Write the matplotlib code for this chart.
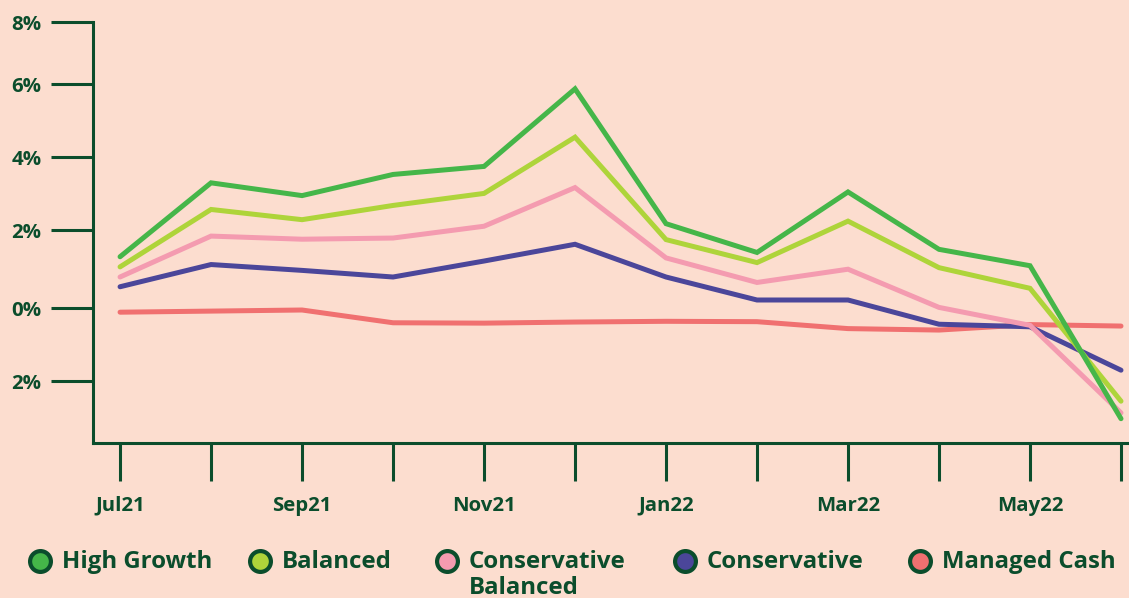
import numpy as np
import matplotlib.pyplot as plt
from matplotlib.lines import Line2D

months = ["Jul21", "Aug21", "Sep21", "Oct21", "Nov21", "Dec21",
          "Jan22", "Feb22", "Mar22", "Apr22", "May22", "Jun22"]
tick_labels = ["Jul21", "", "Sep21", "", "Nov21", "", "Jan22", "", "Mar22", "", "May22", ""]

high_growth = [1.32, 3.30, 2.95, 3.53, 3.75, 5.87, 2.18, 1.43, 3.05, 1.51, 1.09, -3.03]
balanced = [1.06, 2.57, 2.29, 2.68, 3.01, 4.55, 1.76, 1.17, 2.25, 1.04, 0.51, -2.55]
conservative_balanced = [0.80, 1.85, 1.77, 1.80, 2.11, 3.17, 1.29, 0.66, 1.00, 0.02, -0.47, -2.87]
conservative = [0.55, 1.12, 0.97, 0.80, 1.21, 1.64, 0.80, 0.21, 0.21, -0.44, -0.51, -1.70]
managed_cash = [-0.11, -0.08, -0.05, -0.40, -0.41, -0.38, -0.36, -0.37, -0.56, -0.60, -0.45, -0.49]

y_ticks = [-2, 0, 2, 4, 6, 8]
y_tick_labels = ["2%", "0%", "2%", "4%", "6%", "8%"]

# the original axis is not evenly spaced, so map values through its tick positions
scale_vals = [-20, -2, 0, 2, 4, 6, 8, 20]
scale_pos = [-595, 62, 135, 213, 286, 359.3, 421.3, 793.3]


def fwd(v):
    return np.interp(v, scale_vals, scale_pos)


def inv(p):
    return np.interp(p, scale_pos, scale_vals)


BG = "#FCDDCF"
DARK = "#0B4D2C"
series = [
    ("Managed Cash", managed_cash, "#F07070"),
    ("Conservative", conservative, "#4B469A"),
    ("Conservative\nBalanced", conservative_balanced, "#F49BB0"),
    ("Balanced", balanced, "#AED43A"),
    ("High Growth", high_growth, "#45B649"),
]

plt.rcParams["font.family"] = ["Open Sans", "DejaVu Sans"]
plt.rcParams["font.weight"] = "bold"

fig = plt.figure(figsize=(11.29, 5.98), dpi=100, facecolor=BG)
ax = fig.add_axes([0.0824, 0.259, 0.9176, 0.704])
ax.set_facecolor(BG)
ax.set_yscale("function", functions=(fwd, inv))

x = list(range(len(months)))
for name, vals, col in series:
    ax.plot(x, vals, color=col, lw=3.6, solid_capstyle="round",
            solid_joinstyle="miter", clip_on=False)

ax.set_xlim(-0.297, 11.088)
ax.set_ylim(-3.7, 8)
for s in ["top", "right"]:
    ax.spines[s].set_visible(False)
for s in ["left", "bottom"]:
    ax.spines[s].set_color(DARK)
    ax.spines[s].set_linewidth(2.2)

ax.set_xticks(x)
ax.set_xticklabels(tick_labels)
ax.set_yticks(y_ticks)
ax.set_yticklabels(y_tick_labels)
ax.minorticks_off()
ax.tick_params(axis="x", direction="out", length=27, width=2.2, color=DARK,
               labelcolor=DARK, labelsize=14.7, pad=11)
ax.tick_params(axis="y", direction="out", length=30, width=2.2, color=DARK,
               labelcolor=DARK, labelsize=14.7, pad=7)
for lbl in ax.get_xticklabels() + ax.get_yticklabels():
    lbl.set_fontweight("bold")

# legend, drawn by hand so the two-line label keeps its marker on the first line
legend_items = [
    ("High Growth", "#45B649", 40),
    ("Balanced", "#AED43A", 260),
    ("Conservative\nBalanced", "#F49BB0", 447),
    ("Conservative", "#4B469A", 685),
    ("Managed Cash", "#F07070", 920),
]
ly = 1 - 561 / 598
for label, col, px in legend_items:
    fig.add_artist(Line2D([px / 1129], [ly], marker="o", markersize=15,
                          markerfacecolor=col, markeredgecolor=DARK,
                          markeredgewidth=3, linestyle="none",
                          transform=fig.transFigure))
    fig.text((px + 22) / 1129, ly + 0.019, label, color=DARK, fontsize=17.3,
             fontweight="bold", ha="left", va="top", linespacing=1.15)

fig.savefig("out.png", dpi=100, facecolor=BG)
